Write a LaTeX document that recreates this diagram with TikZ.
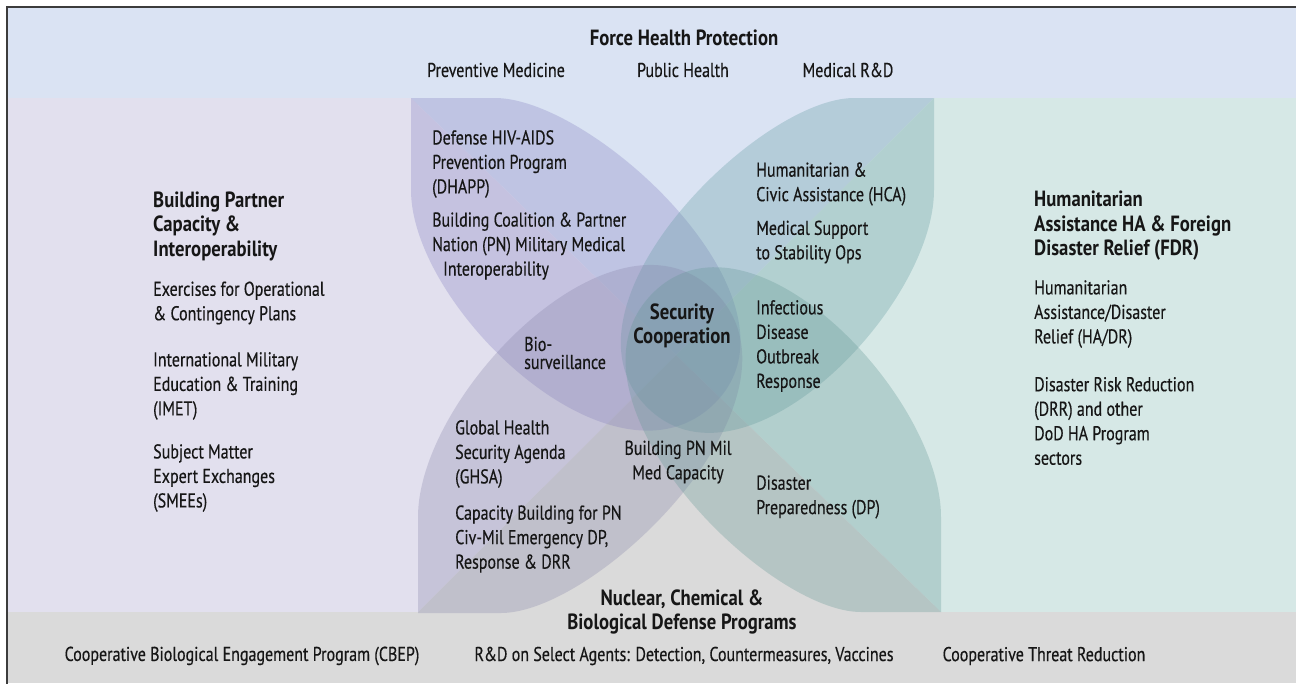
\documentclass[tikz,border=0pt]{standalone}
\usepackage{fontspec}
\setmainfont{PT Sans}[FakeStretch=0.8, FakeBold=0.4]
\newfontfamily\headfont{PT Sans}[FakeStretch=0.85]
\usetikzlibrary{positioning}
\definecolor{topband}{RGB}{218,227,243}
\definecolor{leftband}{RGB}{226,224,238}
\definecolor{rightband}{RGB}{214,232,230}
\definecolor{bottomband}{RGB}{218,218,218}
\definecolor{petalTL}{RGB}{131,127,193}
\definecolor{petalTR}{RGB}{95,154,160}
\definecolor{petalBL}{RGB}{135,132,170}
\definecolor{petalBR}{RGB}{98,150,148}
\definecolor{ink}{RGB}{22,22,22}
\definecolor{framecol}{RGB}{60,60,60}
\tikzset{
every node/.style={inner sep=0pt, text=ink}, % no padding round the texts
txt/.style={anchor=west, align=left, font=\fontsize{20}{24.5}\selectfont}, % plain text block
head/.style={txt, font=\headfont\fontsize{22}{24.5}\selectfont\bfseries}, % bold heading block
mid/.style={anchor=center, align=center}, % centred texts
petal/.style={fill opacity=0.3}, % the four overlapping leaves
}

\begin{document}
\begin{tikzpicture}[x=1pt, y=-1pt]
    \useasboundingbox (0,0) rectangle (1296,683);
    \clip (0,0) rectangle (1296,683);

    % bands
    \fill[topband] (7,7) rectangle (1296,98);
    \fill[leftband] (7,98) rectangle (418,612);
    \fill[rightband] (934,98) rectangle (1296,612);
    \fill[bottomband] (7,612) rectangle (1296,683);
    \coordinate (hub) at (676,355);
    \fill[topband] (411,98) -- (934,98) -- (hub) -- cycle;
    \fill[leftband] (411,98) -- (hub) -- (418,612) -- cycle;
    \fill[rightband] (934,98) -- (941,612) -- (hub) -- cycle;
    \fill[bottomband] (418,612) -- (941,612) -- (hub) -- cycle;
    \draw[framecol, line width=1.6] (7,7) rectangle (1320,700);

    % leaves
    \fill[petal, petalTL] (411,98) -- (495,98) .. controls (595,98) and (815,303) .. (715,403)
        .. controls (615,503) and (411,308) .. (411,190) -- cycle;
    \fill[petal, petalTR] (934,98) -- (854,98) .. controls (759,98) and (550,304) .. (645,405)
        .. controls (740,506) and (934,309) .. (934,190) -- cycle;
    \fill[petal, petalBL] (418,613) -- (501,613) .. controls (599,613) and (816,399) .. (717,294)
        .. controls (619,189) and (418,393) .. (418,517) -- cycle;
    \fill[petal, petalBR] (941,612) -- (861,612) .. controls (765,612) and (554,400) .. (650,296)
        .. controls (746,192) and (941,394) .. (941,517) -- cycle;

    % force health protection
    \node[head, mid] (fhp) at (684,38) {Force Health Protection};
    \node[txt, mid] (prevmed) at (496,70) {Preventive Medicine};
    \node[txt, mid] (pubhealth) at (683,70) {Public Health};
    \node[txt, mid] (medrd) at (848,70) {Medical R\&D};

    % building partner capacity
    \node[head] (bpc) at (153,226) {Building Partner\\Capacity \&\\Interoperability};
    \node[txt] (exer) at (153,303) {Exercises for Operational\\\& Contingency Plans};
    \node[txt] (imet) at (153,386) {International Military\\Education \& Training\\(IMET)};
    \node[txt] (smee) at (153,478) {Subject Matter\\Expert Exchanges\\(SMEEs)};

    % humanitarian assistance
    \node[head] (hafdr) at (1034,226) {Humanitarian\\Assistance HA \& Foreign\\Disaster Relief (FDR)};
    \node[txt] (hadr) at (1034,314) {Humanitarian\\Assistance/Disaster\\Relief (HA/DR)};
    \node[txt] (drr) at (1034,421) {Disaster Risk Reduction\\(DRR) and other\\DoD HA Program\\sectors};

    % inside the leaves
    \node[txt] (dhapp) at (432,164) {Defense HIV-AIDS\\Prevention Program\\(DHAPP)};
    \node[txt] (coalition) at (432,246) {Building Coalition \& Partner\\Nation (PN) Military Medical\\\hspace*{11pt}Interoperability};
    \node[txt] (hca) at (756,184) {Humanitarian \&\\Civic Assistance (HCA)};
    \node[txt] (stability) at (756,242) {Medical Support\\to Stability Ops};
    \node[txt] (outbreak) at (756,346) {Infectious\\Disease\\Outbreak\\Response};
    \node[head, mid] (secoop) at (682,326) {Security\\Cooperation};
    \node[txt, font=\fontsize{20}{18}\selectfont] (biosurv) at (524,353) {Bio-\\surveillance};
    \node[txt] (ghsa) at (455,454) {Global Health\\Security Agenda\\(GHSA)};
    \node[txt] (civmil) at (455,539) {Capacity Building for PN\\Civ-Mil Emergency DP,\\Response \& DRR};
    \node[txt, mid] (pnmil) at (678,462) {Building PN Mil\\Med Capacity};
    \node[txt] (prepared) at (756,497) {Disaster\\Preparedness (DP)};

    % nuclear, chemical and biological defense
    \node[head, mid] (ncb) at (682,612) {Nuclear, Chemical \&\\Biological Defense Programs};
    \node[txt, mid] (cbep) at (242,656) {Cooperative Biological Engagement Program (CBEP)};
    \node[txt, mid] (agents) at (684,656) {R\&D on Select Agents: Detection, Countermeasures, Vaccines};
    \node[txt, mid] (ctr) at (1044,656) {Cooperative Threat Reduction};
\end{tikzpicture}
\end{document}
